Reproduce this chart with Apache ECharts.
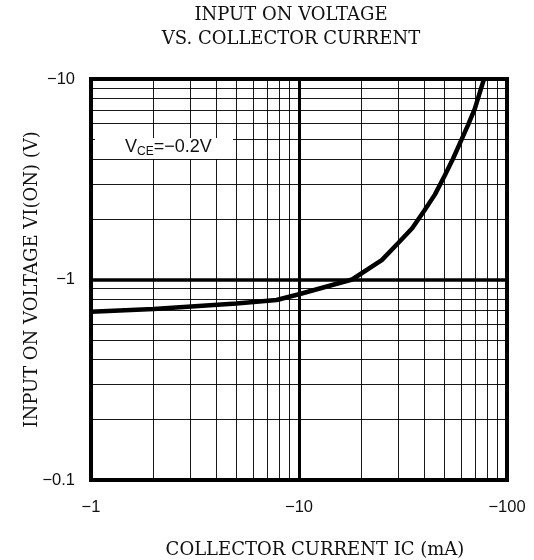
<!DOCTYPE html>
<html>
<head>
<meta charset="utf-8">
<script src="https://cdn.jsdelivr.net/npm/echarts@6/dist/echarts.min.js"></script>
<style>html,body{margin:0;padding:0;background:#fff;}#c{width:534px;height:560px;}</style>
</head>
<body>
<div id="c"></div>
<script>
// Data
const currentIC = [1, 2, 5, 7.8, 10, 18, 25, 30, 35, 40, 45, 50, 55, 60, 65, 70, 77.5];
const voltageVI = [0.69, 0.713, 0.76, 0.79, 0.844, 1.0, 1.25, 1.52, 1.8, 2.2, 2.65, 3.27, 4.0, 4.9, 5.9, 7.1, 10];
const xMinorGrid = [2, 3, 4, 5, 6, 7, 8, 9, 20, 30, 40, 50, 60, 70, 80, 90];
const yMinorGrid = [0.2, 0.3, 0.4, 0.5, 0.6, 0.7, 0.8, 0.9, 2, 3, 4, 5, 6, 7, 8, 9];
const xTickLabels = ['−1', '−10', '−100'];
const yTickLabels = ['−0.1', '−1', '−10'];
const xRange = [1, 100];
const yRange = [0.1, 10];

const serif = '"DejaVu Serif", serif';
const sans = '"Liberation Sans", Arial, sans-serif';

function labelFor(list, extent) {
  return function (v) {
    const i = Math.round(Math.log10(v / extent[0]));
    return list[i] !== undefined ? list[i] : '';
  };
}

const chart = echarts.init(document.getElementById('c'), null, {renderer: 'canvas'});
chart.setOption({
  animation: false,
  title: {
    text: 'INPUT ON VOLTAGE\nVS. COLLECTOR CURRENT',
    left: 291, top: 3, textAlign: 'center', padding: 0,
    textStyle: {fontFamily: serif, fontSize: 18, fontWeight: 'normal', color: '#111', lineHeight: 24}
  },
  grid: {
    left: 91, right: 27, top: 79, bottom: 80,
    outerBoundsMode: 'none', containLabel: false,
    show: true, borderColor: '#000', borderWidth: 4, backgroundColor: 'transparent'
  },
  xAxis: {
    type: 'log', logBase: 10, min: xRange[0], max: xRange[1],
    name: 'COLLECTOR CURRENT IC (mA)', nameLocation: 'middle', nameGap: 61,
    nameTextStyle: {fontFamily: serif, fontSize: 18, color: '#111', padding: [0, 0, 0, 32]},
    axisLine: {show: false}, axisTick: {show: false},
    axisLabel: {margin: 19, fontFamily: sans, fontSize: 16.5, color: '#111', formatter: labelFor(xTickLabels, xRange)},
    splitLine: {show: true, lineStyle: {color: '#000', width: 3}}
  },
  yAxis: {
    type: 'log', logBase: 10, min: yRange[0], max: yRange[1],
    name: 'INPUT ON VOLTAGE VI(ON) (V)', nameLocation: 'middle', nameGap: 50,
    nameMoveOverlap: false,
    nameTextStyle: {fontFamily: serif, fontSize: 18, color: '#111'},
    axisLine: {show: false}, axisTick: {show: false},
    axisLabel: {margin: 16, fontFamily: sans, fontSize: 16.5, color: '#111', formatter: labelFor(yTickLabels, yRange)},
    splitLine: {show: true, lineStyle: {color: '#000', width: 3.5}}
  },
  graphic: [
    {type: 'rect', z: 50, shape: {x: 95, y: 138, width: 138, height: 21}, style: {fill: '#fff'}},
    {type: 'text', z: 51, left: 125, top: 138,
      style: {
        text: '{a|V}{b|CE}{a|=−0.2V}',
        rich: {
          a: {fontFamily: sans, fontSize: 18, fill: '#111', lineHeight: 20, verticalAlign: 'bottom'},
          b: {fontFamily: sans, fontSize: 12, fill: '#111', lineHeight: 20, verticalAlign: 'bottom', padding: [0, 0, -2, 0]}
        }
      }}
  ],
  series: [
    {
      type: 'line', z: 1, data: [[xRange[0], yRange[0]]], symbol: 'none', silent: true,
      lineStyle: {opacity: 0},
      markLine: {
        silent: true, symbol: 'none', label: {show: false},
        lineStyle: {color: '#000', width: 1, type: 'solid', opacity: 0.9},
        data: xMinorGrid.map(v => ({xAxis: v})).concat(yMinorGrid.map(v => ({yAxis: v})))
      }
    },
    {
      type: 'line', z: 5, symbol: 'none', smooth: false,
      data: currentIC.map((x, i) => [x, voltageVI[i]]),
      lineStyle: {color: '#000', width: 4.5},
      clip: true
    }
  ]
});
</script>
</body>
</html>
